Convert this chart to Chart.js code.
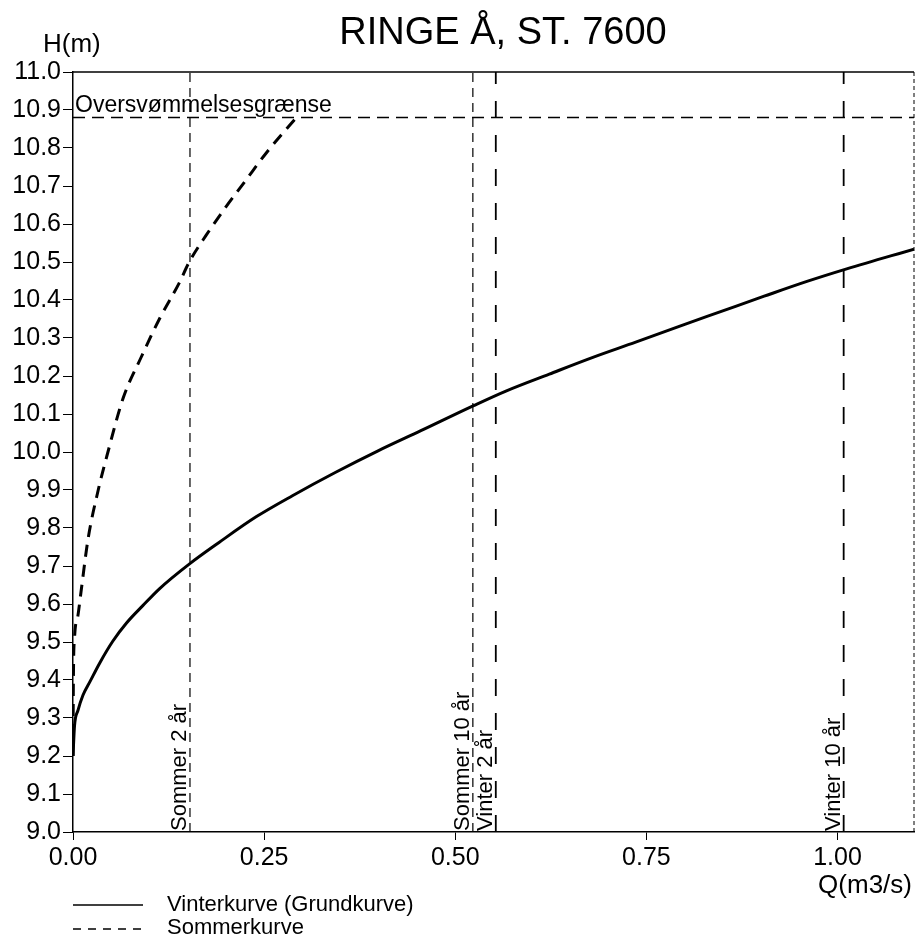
<!DOCTYPE html>
<html>
<head>
<meta charset="utf-8">
<title>Ringe Å, st. 7600</title>
<script src="https://cdn.jsdelivr.net/npm/chart.js@4/dist/chart.umd.min.js"></script>
<style>
    body { margin: 0; background: #fff; }
    canvas { display: block; }
</style>
</head>
<body>
<canvas id="qhChart" width="919" height="940"></canvas>
<script>
// Vinterkurve (grundkurve): vandføring Q (m3/s) og vandstand H (m)
const winterQ = [0, 0.002, 0.0065, 0.013, 0.022, 0.035, 0.052, 0.070, 0.091, 0.113, 0.152, 0.191, 0.240, 0.287,
    0.343, 0.399, 0.455, 0.524, 0.567, 0.623, 0.680, 0.736, 0.792, 0.848, 0.904, 0.960, 1.012, 1.1];
const winterH = [9.20, 9.28, 9.32, 9.36, 9.395, 9.445, 9.502, 9.55, 9.595, 9.64, 9.705, 9.762, 9.83, 9.885,
    9.946, 10.003, 10.056, 10.122, 10.161, 10.205, 10.249, 10.289, 10.330, 10.370, 10.410, 10.449, 10.482, 10.534];

// Sommerkurve, stopper ved oversvømmelsesgrænsen
const summerQ = [0, 0.0005, 0.002, 0.0065, 0.011, 0.0196, 0.033, 0.0457, 0.0653, 0.0893, 0.113, 0.139, 0.152,
    0.174, 0.200, 0.226, 0.252, 0.292];
const summerH = [9.20, 9.40, 9.51, 9.57, 9.64, 9.77, 9.90, 10.00, 10.14, 10.25, 10.35, 10.445, 10.50,
    10.57, 10.645, 10.715, 10.785, 10.88];

// Afstrømninger for gentagelsesperioder
const eventLabels = ['Sommer 2 år', 'Sommer 10 år', 'Vinter 2 år', 'Vinter 10 år'];
const eventQ = [0.153, 0.523, 0.553, 1.008];

const floodLevel = 10.88;
const floodLabel = 'Oversvømmelsesgrænse';

const xTicks = [0, 0.25, 0.5, 0.75, 1.0];
const yTicks = [9.0, 9.1, 9.2, 9.3, 9.4, 9.5, 9.6, 9.7, 9.8, 9.9, 10.0, 10.1, 10.2, 10.3, 10.4, 10.5, 10.6, 10.7, 10.8, 10.9, 11.0];

const FONT = '"Liberation Sans", Arial, sans-serif';

function toPoints(xs, ys) {
    return xs.map(function (x, i) { return { x: x, y: ys[i] }; });
}

document.addEventListener('DOMContentLoaded', function () {

    const ctx = document.getElementById('qhChart').getContext('2d');

    // Lodrette linjer for hver gentagelsesperiode
    const eventSets = eventQ.map(function (q, i) {
        const summer = eventLabels[i].startsWith('Sommer');
        return {
            data: [{ x: q, y: 9.0 }, { x: q, y: 11.0 }],
            borderColor: '#000',
            borderWidth: summer ? 1.2 : 1.8,
            borderDash: summer ? [9, 6] : [17, 17],
            pointRadius: 0,
            fill: false
        };
    });

    const floodSet = {
        data: [{ x: 0, y: floodLevel }, { x: 1.1, y: floodLevel }],
        borderColor: '#000',
        borderWidth: 1.5,
        borderDash: [12, 7],
        pointRadius: 0,
        fill: false
    };

    // Tekster, ramme og signaturforklaring tegnes direkte på lærredet
    const framePlugin = {
        id: 'frame',
        afterDraw: function (chart) {
            const c = chart.ctx;
            const area = chart.chartArea;
            const xs = chart.scales.x;
            const ys = chart.scales.y;

            c.save();
            c.fillStyle = '#000';
            c.strokeStyle = '#000';

            // top og højre kant
            c.lineWidth = 1.5;
            c.beginPath();
            c.moveTo(area.left, area.top);
            c.lineTo(area.right, area.top);
            c.stroke();
            c.lineWidth = 1;
            c.setLineDash([4, 3]);
            c.beginPath();
            c.moveTo(area.right, area.top);
            c.lineTo(area.right, area.bottom);
            c.stroke();
            c.setLineDash([]);

            c.textAlign = 'center';
            c.textBaseline = 'alphabetic';
            c.font = '38px ' + FONT;
            c.fillText('RINGE Å, ST. 7600', 503, 44);

            c.textAlign = 'left';
            c.font = '26px ' + FONT;
            c.fillText('H(m)', 43, 52);
            c.textAlign = 'right';
            c.fillText('Q(m3/s)', 912, 893);

            c.textAlign = 'left';
            c.font = '23px ' + FONT;
            c.fillText(floodLabel, area.left + 2, ys.getPixelForValue(floodLevel) - 6);

            // lodrette etiketter langs linjerne
            c.font = '22px ' + FONT;
            eventQ.forEach(function (q, i) {
                c.save();
                c.translate(xs.getPixelForValue(q) - 4, area.bottom - 1);
                c.rotate(-Math.PI / 2);
                c.fillText(eventLabels[i], 0, 0);
                c.restore();
            });

            // signaturforklaring
            c.lineWidth = 1.6;
            c.beginPath();
            c.moveTo(73, 905);
            c.lineTo(143, 905);
            c.stroke();
            c.setLineDash([8, 7]);
            c.beginPath();
            c.moveTo(73, 929);
            c.lineTo(143, 929);
            c.stroke();
            c.setLineDash([]);
            c.textBaseline = 'middle';
            c.fillText('Vinterkurve (Grundkurve)', 167, 905);
            c.fillText('Sommerkurve', 167, 928);

            c.restore();
        }
    };

    new Chart(ctx, {
        type: 'line',
        data: {
            datasets: [
                {
                    label: 'Vinterkurve (Grundkurve)',
                    data: toPoints(winterQ, winterH),
                    borderColor: '#000',
                    borderWidth: 3,
                    pointRadius: 0,
                    cubicInterpolationMode: 'monotone',
                    fill: false
                },
                {
                    label: 'Sommerkurve',
                    data: toPoints(summerQ, summerH),
                    borderColor: '#000',
                    borderWidth: 3,
                    borderDash: [12, 8],
                    pointRadius: 0,
                    cubicInterpolationMode: 'monotone',
                    fill: false
                },
                floodSet
            ].concat(eventSets)
        },
        options: {
            responsive: false,
            animation: false,
            devicePixelRatio: 1,
            layout: { padding: { top: 72, right: 5, left: 0, bottom: 0 } },
            plugins: {
                legend: { display: false },
                title: { display: false },
                tooltip: { enabled: false }
            },
            scales: {
                x: {
                    type: 'linear',
                    min: 0,
                    max: 1.1,
                    afterFit: function (axis) { axis.height = 108; },
                    afterBuildTicks: function (axis) {
                        axis.ticks = xTicks.map(function (v) { return { value: v }; });
                    },
                    ticks: {
                        color: '#000',
                        font: { family: FONT, size: 25 },
                        padding: 3,
                        maxRotation: 0,
                        callback: function (v) { return Number(v).toFixed(2); }
                    },
                    grid: {
                        drawOnChartArea: false,
                        tickLength: 8,
                        tickColor: '#000'
                    },
                    border: { color: '#000', width: 1.5 }
                },
                y: {
                    type: 'linear',
                    min: 9,
                    max: 11,
                    afterFit: function (axis) { axis.width = 73; },
                    afterBuildTicks: function (axis) {
                        axis.ticks = yTicks.map(function (v) { return { value: v }; });
                    },
                    ticks: {
                        color: '#000',
                        font: { family: FONT, size: 25 },
                        padding: 2,
                        callback: function (v) { return Number(v).toFixed(1); }
                    },
                    grid: {
                        drawOnChartArea: false,
                        tickLength: 10,
                        tickColor: '#000'
                    },
                    border: { color: '#000', width: 1.5 }
                }
            }
        },
        plugins: [framePlugin]
    });
});
</script>
</body>
</html>
